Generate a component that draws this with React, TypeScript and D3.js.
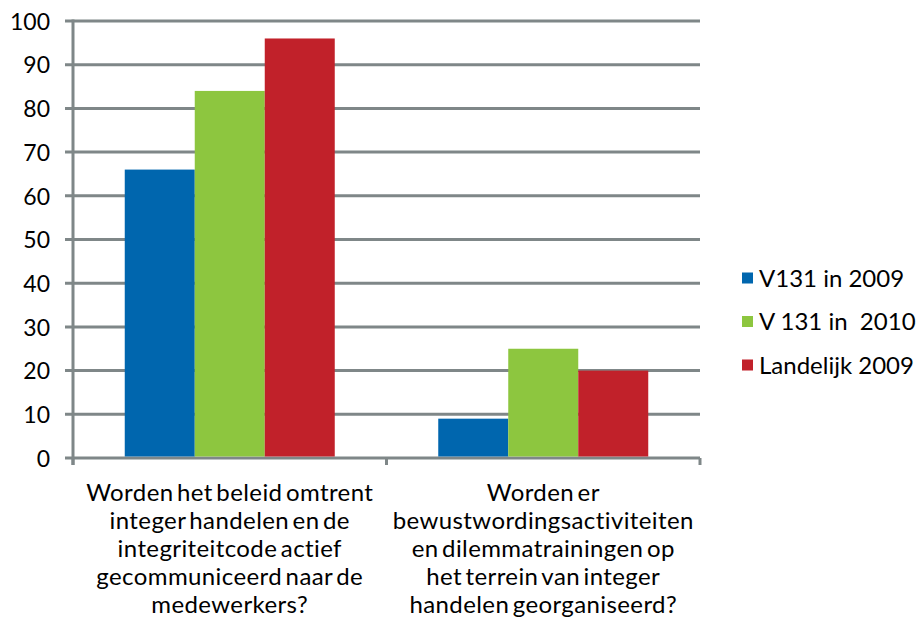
import React from "react";
import * as d3 from "d3";

const categories = [
  ["Worden het beleid omtrent", "integer handelen en de", "integriteitcode actief", "gecommuniceerd naar de", "medewerkers?"],
  ["Worden er", "bewustwordingsactiviteiten", "en dilemmatrainingen op", "het terrein van integer", "handelen georganiseerd?"],
];
const seriesNames = ["V131 in 2009", "V 131 in  2010", "Landelijk 2009"];
const seriesColors = ["#0066AE", "#8DC63F", "#C1212A"];
const v131_2009 = [66, 9];
const v131_2010 = [84, 25];
const landelijk2009 = [96, 20];
const yTicks = [0, 10, 20, 30, 40, 50, 60, 70, 80, 90, 100];

const series = [v131_2009, v131_2010, landelijk2009];

export default function App() {
  const W = 918, H = 620;
  const left = 73, right = 700, top = 21, bottom = 458;
  const font = "Lato, 'Open Sans', sans-serif";
  const gridColor = "#7F8788";
  const y = d3.scaleLinear().domain([0, 100]).range([bottom, top]);
  const x0 = d3.scaleBand<number>().domain([0, 1]).range([left, right]).paddingInner(0).paddingOuter(0);
  const bw = x0.bandwidth();
  const groupW = 210;
  const x1 = d3.scaleBand<number>().domain([0, 1, 2]).range([0, groupW]);
  return (
    <svg width={W} height={H} style={{ position: "absolute", left: 0, top: 0 }}>
      <rect width={W} height={H} fill="#fff" />
      {yTicks.map((t) => (
        <g key={t}>
          <line x1={65} x2={right} y1={y(t)} y2={y(t)} stroke={gridColor} strokeWidth={3} />
          <text x={50} y={y(t)} dy="0.38em" textAnchor="end" fontFamily={font} fontSize={23} fill="#000">{t}</text>
        </g>
      ))}
      <line x1={left} x2={left} y1={top - 1.5} y2={bottom + 7} stroke={gridColor} strokeWidth={3} />
      {[0, 1, 2].map((i) => (
        <line key={i} x1={left + i * bw} x2={left + i * bw} y1={bottom} y2={bottom + 7} stroke={gridColor} strokeWidth={3} />
      ))}
      {series.map((s, si) =>
        s.map((v, ci) => {
          const gx = (x0(ci) as number) + bw / 2 - groupW / 2 + (x1(si) as number);
          return <rect key={si + "-" + ci} x={gx} y={y(v)} width={x1.bandwidth()} height={bottom - 1.5 - y(v)} fill={seriesColors[si]} />;
        })
      )}
      {categories.map((lines, ci) => (
        <g key={ci} transform={`translate(${(x0(ci) as number) + bw / 2}, 501)`}>
          <text x={0} y={0} textAnchor="middle" fontFamily={font} fontSize={24} fill="#000" wordSpacing={-3} letterSpacing={0.4}>
            {lines.map((l, li) => (
              <tspan key={li} x={0} y={li * 28}>{l}</tspan>
            ))}
          </text>
        </g>
      ))}
      {seriesNames.map((n, i) => (
        <g key={n} transform={`translate(742, ${278 + i * 43.5})`}>
          <rect x={0} y={-5.5} width={11} height={11} fill={seriesColors[i]} />
          <text x={17} y={0} dy="0.36em" fontFamily={font} fontSize={24} fill="#000" style={{ whiteSpace: "pre" }}>{n}</text>
        </g>
      ))}
    </svg>
  );
}
